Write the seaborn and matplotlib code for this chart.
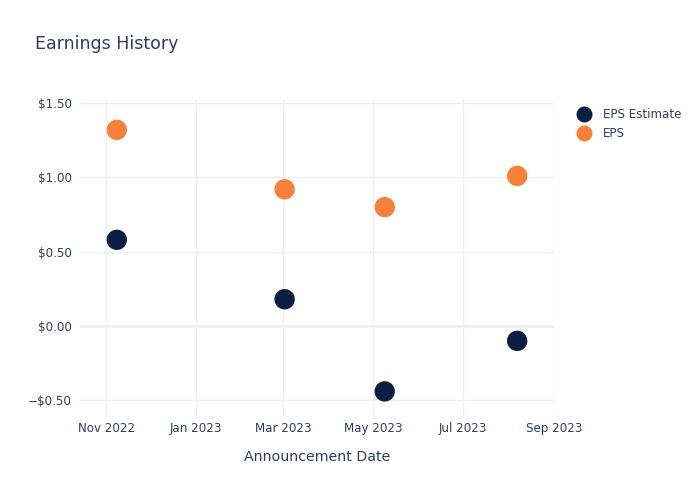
import matplotlib
matplotlib.use("Agg")
import matplotlib.pyplot as plt
import matplotlib.dates as mdates
from matplotlib.ticker import FuncFormatter, FixedLocator
import seaborn as sns
import pandas as pd
import numpy as np

dates = ["2022-11-08", "2023-03-02", "2023-05-09", "2023-08-07"]
eps_estimate = [0.58, 0.18, -0.44, -0.10]
eps_actual = [1.32, 0.92, 0.80, 1.01]
series_names = ["EPS Estimate", "EPS"]
colors = ["#0b1f42", "#f7803a"]
x_ticks = ["2022-11-01", "2023-01-01", "2023-03-01", "2023-05-01", "2023-07-01", "2023-09-01"]
y_ticks = [-0.5, 0.0, 0.5, 1.0, 1.5]

df = pd.DataFrame({
    "date": pd.to_datetime(dates * 2),
    "value": eps_estimate + eps_actual,
    "series": [series_names[0]] * len(dates) + [series_names[1]] * len(dates),
})

sns.set_theme(style="white")
plt.rcParams["font.family"] = ["DejaVu Sans"]
text_color = "#2a3f5f"
grid_color = "#ebf0f8"

fig = plt.figure(figsize=(7, 5), dpi=100)
ax = fig.add_axes([80/700, 1 - 419/500, (554-80)/700, (419-100)/500])

sns.scatterplot(data=df, x="date", y="value", hue="series", palette=colors,
                hue_order=series_names, s=215, linewidth=0, ax=ax, zorder=3)

ax.set_xlim(pd.Timestamp("2022-10-14"), pd.Timestamp("2023-09-01"))
ax.set_ylim(-0.626, 1.521)

ax.xaxis.set_major_locator(FixedLocator(mdates.date2num(pd.to_datetime(x_ticks))))
ax.xaxis.set_major_formatter(mdates.DateFormatter("%b %Y"))
ax.yaxis.set_major_locator(FixedLocator(y_ticks))

def yfmt(v, pos):
    s = f"${abs(v):.2f}"
    return ("\u2212" + s) if v < 0 else s
ax.yaxis.set_major_formatter(FuncFormatter(yfmt))

for sp in ax.spines.values():
    sp.set_visible(False)
ax.grid(True, color=grid_color, linewidth=1, zorder=0)
ax.axhline(0, color=grid_color, linewidth=2, zorder=1)
ax.tick_params(axis="both", length=0, labelsize=8.6, colors=text_color, pad=6)
ax.tick_params(axis="x", pad=2)

ax.set_xlabel("Announcement Date", fontsize=10.2, color=text_color, labelpad=11)
ax.set_ylabel("")
fig.text(35/700, 1 - 44/500, "Earnings History", fontsize=12.5, color=text_color,
         va="center", ha="left")

leg = ax.legend(loc="upper left", bbox_to_anchor=(1.028, 0.99), frameon=False,
                fontsize=8.6, handletextpad=0.6, labelspacing=0.5,
                borderaxespad=0.0, markerscale=1.0)
for t in leg.get_texts():
    t.set_color(text_color)
for h in leg.legend_handles:
    try:
        h.set_markersize(11.5)
    except AttributeError:
        h.set_sizes([130])

fig.savefig("out.png", dpi=100)
